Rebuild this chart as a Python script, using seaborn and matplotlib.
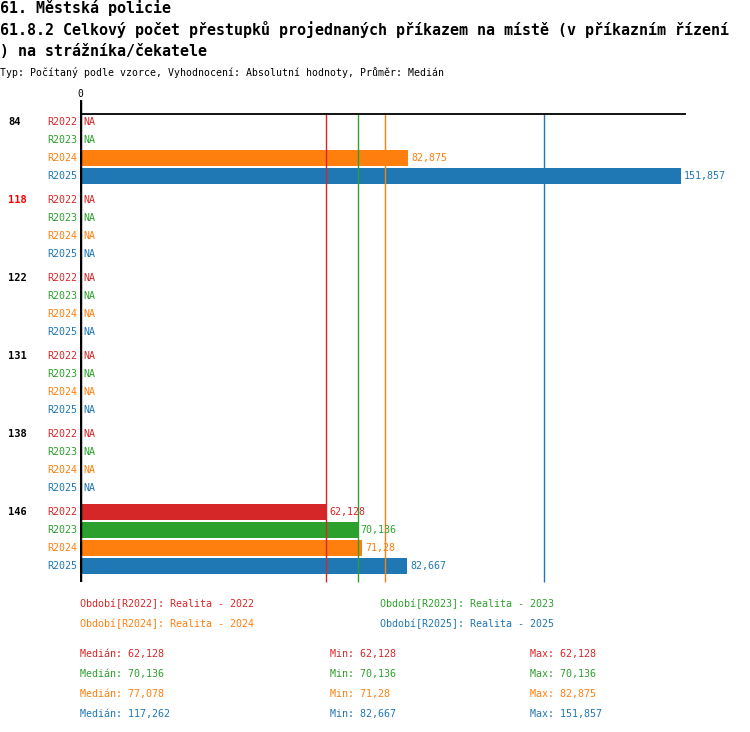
import matplotlib
matplotlib.use("Agg")
import matplotlib.pyplot as plt
import numpy as np
import pandas as pd
import seaborn as sns

# Data
groups = ["84", "118", "122", "131", "138", "146"]
periods = ["R2022", "R2023", "R2024", "R2025"]
values = {
    "84": [np.nan, np.nan, 82.875, 151.857],
    "118": [np.nan, np.nan, np.nan, np.nan],
    "122": [np.nan, np.nan, np.nan, np.nan],
    "131": [np.nan, np.nan, np.nan, np.nan],
    "138": [np.nan, np.nan, np.nan, np.nan],
    "146": [62.128, 70.136, 71.28, 82.667],
}
period_names = ["Realita - 2022", "Realita - 2023", "Realita - 2024", "Realita - 2025"]
colors = ["#d62728", "#2ca02c", "#ff7f0e", "#1f77b4"]
group_label_colors = ["black", "red", "black", "black", "black", "black"]

title1 = "61. Městská policie"
title2 = "61.8.2 Celkový počet přestupků projednaných příkazem na místě (v příkazním řízení"
title3 = ") na strážníka/čekatele"
subtitle = "Typ: Počítaný podle vzorce, Vyhodnocení: Absolutní hodnoty, Průměr: Medián"

W, H = 750, 732
FONT = "DejaVu Sans Mono"


def fmt(v):
    s = f"{v + 1e-9:.3f}".rstrip("0").rstrip(".")
    return s.replace(".", ",")


# Build table
rows = []
group_step = 4 + 1 / 3
for gi, g in enumerate(groups):
    for pi, p in enumerate(periods):
        rows.append({
            "group": g,
            "period": p,
            "value": values[g][pi],
            "pos": gi * group_step + pi,
        })
df = pd.DataFrame(rows)

sns.set_style("white")
plt.rcParams["font.family"] = [FONT, "DejaVu Sans"]
plt.rcParams["text.color"] = "black"
plt.rcParams["xtick.color"] = "black"

fig = plt.figure(figsize=(W / 100, H / 100), dpi=100)

# plot area in pixels: x 80..686, y 100..582
ax = fig.add_axes([80 / W, 1 - 582 / H, 606 / W, 482 / H])

sns.barplot(
    data=df.dropna(),
    x="value",
    y="pos",
    hue="period",
    hue_order=periods,
    palette=colors,
    orient="h",
    native_scale=True,
    dodge=False,
    width=16 / 18,
    saturation=1,
    linewidth=0,
    legend=False,
    ax=ax,
)

y_top = -22 / 18
y_bottom = df["pos"].max() + 16 / 18
ax.set_xlim(0, 606 / 3.958)
ax.set_ylim(y_bottom, y_top)

for s in ax.spines.values():
    s.set_visible(False)
ax.set_ylabel("")
ax.set_xlabel("")
ax.set_yticks([])
ax.xaxis.tick_top()
ax.set_xticks([0])
ax.set_xticklabels(["0"], fontsize=7, family=FONT)
ax.tick_params(axis="x", length=0, pad=1)

# median lines
for pi, p in enumerate(periods):
    med = np.nanmedian(df.loc[df["period"] == p, "value"])
    ax.vlines(med, y_top + 13 / 18, y_bottom, color=colors[pi],
              lw=1, zorder=3, clip_on=False)

# axis lines
ax.axhline(-8 / 18, color="black", lw=1.3, zorder=4)
ax.axvline(0, color="black", lw=2.5, zorder=5)

# labels
for gi, g in enumerate(groups):
    base = gi * group_step
    ax.annotate(g, xy=(0, base), xycoords=("axes fraction", "data"),
                xytext=(-72, 0), textcoords="offset pixels",
                ha="left", va="center", fontsize=7.5, fontweight="bold",
                color=group_label_colors[gi], family=FONT)
for _, r in df.iterrows():
    pi = periods.index(r["period"])
    ax.annotate(r["period"], xy=(0, r["pos"]), xycoords="data",
                xytext=(-3, 0), textcoords="offset pixels",
                ha="right", va="center", fontsize=7.2, color=colors[pi],
                family=FONT)
    if np.isnan(r["value"]):
        txt, xv = "NA", 0
    else:
        txt, xv = fmt(r["value"]), r["value"]
    ax.annotate(txt, xy=(xv, r["pos"]), xycoords="data",
                xytext=(3, 0), textcoords="offset pixels",
                ha="left", va="center", fontsize=7.2, color=colors[pi],
                family=FONT, annotation_clip=False)

# titles
fig.text(0, 1 - 8 / H, title1, fontsize=10.8, fontweight="bold",
         va="center", ha="left", family=FONT)
fig.text(0, 1 - 30 / H, title2, fontsize=10.8, fontweight="bold",
         va="center", ha="left", family=FONT)
fig.text(0, 1 - 51 / H, title3, fontsize=10.8, fontweight="bold",
         va="center", ha="left", family=FONT)
fig.text(0, 1 - 73 / H, subtitle, fontsize=7.1, va="center", ha="left",
         family=FONT)

# legend of periods
leg_pos = [(80, 604), (380, 604), (80, 624), (380, 624)]
for pi, p in enumerate(periods):
    x, y = leg_pos[pi]
    fig.text(x / W, 1 - y / H, f"Období[{p}]: {period_names[pi]}",
             fontsize=7.2, color=colors[pi], va="center", ha="left", family=FONT)

# statistics
for pi, p in enumerate(periods):
    vals = df.loc[df["period"] == p, "value"]
    y = 654 + pi * 20
    fig.text(80 / W, 1 - y / H, f"Medián: {fmt(np.nanmedian(vals))}",
             fontsize=7.2, color=colors[pi], va="center", ha="left", family=FONT)
    fig.text(330 / W, 1 - y / H, f"Min: {fmt(np.nanmin(vals))}",
             fontsize=7.2, color=colors[pi], va="center", ha="left", family=FONT)
    fig.text(530 / W, 1 - y / H, f"Max: {fmt(np.nanmax(vals))}",
             fontsize=7.2, color=colors[pi], va="center", ha="left", family=FONT)

fig.savefig("out.png", dpi=100)
